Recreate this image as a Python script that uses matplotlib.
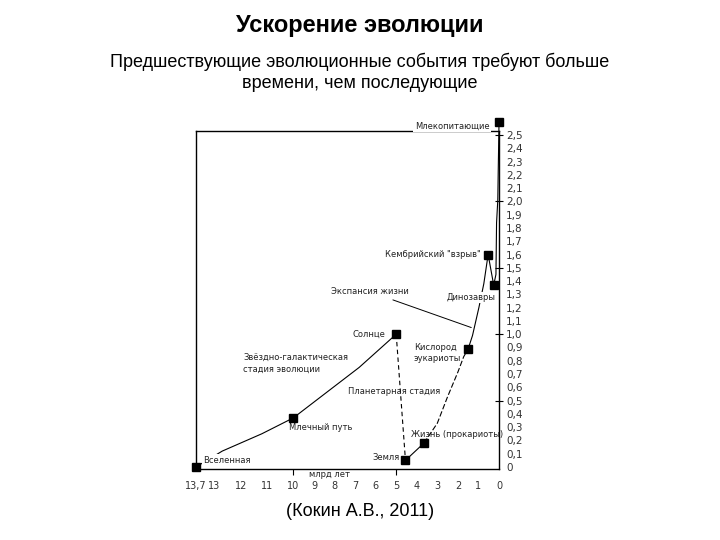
import numpy as np
import matplotlib
matplotlib.use("Agg")
import matplotlib.pyplot as plt
from matplotlib.ticker import FixedLocator, FuncFormatter

# events: age (billion years ago) and level on the right axis
event_names = ['Вселенная', 'Млечный путь', 'Солнце', 'Земля', 'Жизнь (прокариоты)',
               'Кислород\nэукариоты', 'Кембрийский "взрыв"', 'Динозавры', 'Млекопитающие']
event_age = [13.7, 10.0, 5.0, 4.55, 3.65, 1.5, 0.53, 0.26, 0.0]
event_level = [0.0, 0.37, 1.0, 0.05, 0.18, 0.89, 1.6, 1.37, 2.6]

# star-galaxy stage curve
cosmic_age = [13.7, 12.7, 11.2, 10.0, 8.4, 6.8, 5.0]
cosmic_level = [0.0, 0.12, 0.25, 0.37, 0.56, 0.75, 1.0]

# planetary stage
planet_age = [5.0, 4.55]
planet_level = [1.0, 0.05]

# life curve pieces
life_age_a = [4.55, 3.65]
life_level_a = [0.05, 0.18]
life_age_b = [3.65, 3.0, 2.5, 2.0, 1.72, 1.5]
life_level_b = [0.18, 0.33, 0.53, 0.715, 0.83, 0.89]
life_age_c = [1.5, 1.29, 0.98, 0.74, 0.53]
life_level_c = [0.89, 0.99, 1.2, 1.38, 1.6]
life_age_d = [0.53, 0.26]
life_level_d = [1.6, 1.37]
life_age_e = [0.26, 0.15, 0.12, 0.06, 0.04, 0.0]
life_level_e = [1.37, 1.45, 1.84, 2.01, 2.22, 2.6]

x_ticks = [13.7, 13, 12, 11, 10, 9, 8, 7, 6, 5, 4, 3, 2, 1, 0]
y_ticks = [round(i * 0.1, 1) for i in range(26)]

# label offsets (points) and alignment
label_offsets = [(5, 5), (-3, -7), (-8, 0), (-4, 2), (-9, 6.5), (-5, -3), (-5, 0), (-16, -9), (-7, -3)]
label_ha = ['left', 'left', 'right', 'right', 'left', 'right', 'right', 'center', 'right']
label_box = [True, False, False, False, False, False, False, True, True]


def fwd(v):
    v = np.asarray(v, dtype=float)
    return np.where(v > 10, 10 + (v - 10) * 1.28, v)


def inv(u):
    u = np.asarray(u, dtype=float)
    return np.where(u > 10, 10 + (u - 10) / 1.28, u)


def xfmt(v, pos=None):
    if abs(v - round(v)) < 1e-9:
        return str(int(round(v)))
    return ('%.1f' % v).replace('.', ',')


def yfmt(v, pos=None):
    if abs(v) < 1e-9:
        return '0'
    return ('%.1f' % v).replace('.', ',')


fig = plt.figure(figsize=(7.2, 5.4), dpi=100)
ax = fig.add_axes([0.2722, 0.1315, 0.4209, 0.6259])
ax.set_xscale('function', functions=(fwd, inv))
ax.set_xlim(13.7, 0)
ax.set_ylim(-0.015, 2.53)

lw = 0.8
ax.plot(cosmic_age, cosmic_level, color='black', lw=lw)
ax.plot(planet_age, planet_level, color='black', lw=lw, ls=(0, (4, 3)))
ax.plot(life_age_a, life_level_a, color='black', lw=lw)
ax.plot(life_age_b, life_level_b, color='black', lw=lw, ls=(0, (5, 2)))
ax.plot(life_age_c, life_level_c, color='black', lw=lw)
ax.plot(life_age_d, life_level_d, color='black', lw=lw)
ax.plot(life_age_e, life_level_e, color='black', lw=lw, clip_on=False)
ax.plot(event_age, event_level, 's', color='black', ms=5.5, clip_on=False, zorder=5)

small = dict(fontsize=6, color='#222222', family='DejaVu Sans')
for name, a, l, off, ha, box in zip(event_names, event_age, event_level,
                                     label_offsets, label_ha, label_box):
    t = ax.annotate(name, (a, l), xytext=off, textcoords='offset points',
                    ha=ha, va='center', multialignment='left', zorder=4,
                    annotation_clip=False, **small)
    if box:
        t.set_bbox(dict(facecolor='white', edgecolor='none', pad=1.0))

ax.annotate('Экспансия жизни', (1.35, 1.05), xytext=(4.4, 1.32), ha='right', va='center',
            arrowprops=dict(arrowstyle='-', color='black', lw=0.7, shrinkA=2, shrinkB=0), **small)
ax.text(0.155, 0.312, 'Звёздно-галактическая\nстадия эволюции', transform=ax.transAxes,
        ha='left', va='center', linespacing=1.4, **small)
ax.text(0.653, 0.228, 'Планетарная стадия', transform=ax.transAxes, ha='center', va='center', **small)
ax.text(0.439, -0.016, 'млрд лет', transform=ax.transAxes, ha='center', va='center', **small)

for s in ax.spines.values():
    s.set_linewidth(1.0)

ax.xaxis.set_major_locator(FixedLocator(x_ticks))
ax.xaxis.set_minor_locator(FixedLocator([10, 5]))
ax.xaxis.remove_overlapping_locs = False
ax.xaxis.set_major_formatter(FuncFormatter(xfmt))
ax.xaxis.set_minor_formatter(FuncFormatter(lambda v, p: ''))
ax.tick_params(axis='x', which='major', length=0, pad=9, labelsize=7, labelcolor='#333333')
ax.tick_params(axis='x', which='minor', length=4, width=0.8, direction='out')

ax.yaxis.tick_right()
ax.yaxis.set_major_locator(FixedLocator(y_ticks))
ax.yaxis.set_minor_locator(FixedLocator([0.5, 1.0, 1.5, 2.0, 2.5]))
ax.yaxis.remove_overlapping_locs = False
ax.yaxis.set_major_formatter(FuncFormatter(yfmt))
ax.yaxis.set_minor_formatter(FuncFormatter(lambda v, p: ''))
ax.tick_params(axis='y', which='major', length=0, pad=5, labelsize=7.5, labelcolor='#333333')
ax.tick_params(axis='y', which='minor', length=6, width=0.8, direction='inout', right=True)

fig.text(0.5, 0.952, 'Ускорение эволюции', ha='center', va='center',
         fontsize=17, fontweight='bold', family='Liberation Sans')
fig.text(0.5, 0.866, 'Предшествующие эволюционные события требуют больше\nвремени, чем последующие',
         ha='center', va='center', fontsize=13, family='Liberation Sans', linespacing=1.3)
fig.text(0.5, 0.052, '(Кокин А.В., 2011)', ha='center', va='center',
         fontsize=13, family='Liberation Sans')

fig.savefig('out.png', dpi=100)
